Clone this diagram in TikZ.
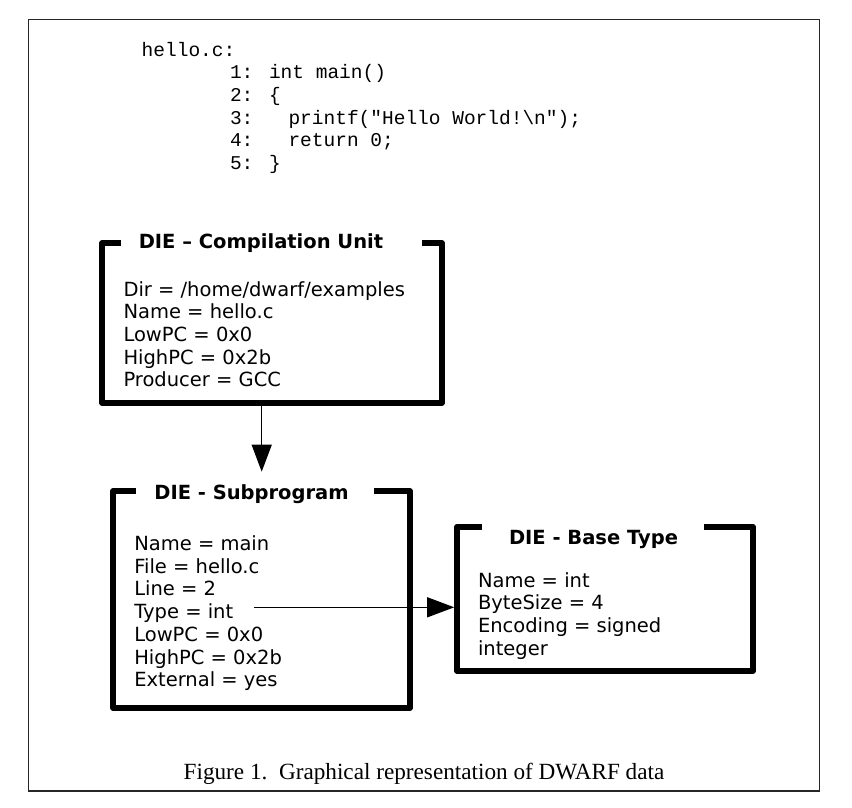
\documentclass[tikz,border=0pt]{standalone}
\usepackage{fontspec}
\newfontfamily\dvfont{DejaVu Sans}
\newfontfamily\codefont{Liberation Mono}
\newfontfamily\capfont{Liberation Serif}
\usetikzlibrary{arrows.meta}
\begin{document}
\begin{tikzpicture}[x=1bp,y=-1bp,
  every node/.style={inner sep=0pt, outer sep=0pt},
  code/.style={anchor=base west, font=\codefont\fontsize{19.5bp}{22.6bp}\selectfont},
  attr/.style={anchor=base west, font=\dvfont\fontsize{19.5bp}{22.7bp}\selectfont},
  dietitle/.style={anchor=base, font=\dvfont\bfseries\fontsize{19.5bp}{22.7bp}\selectfont},
  diebox/.style={draw=none, minimum width=#1},
  boxline/.style={line width=5.6bp, line join=round, line cap=butt, black},
  link/.style={line width=1.2bp, black, -{Triangle[length=27bp,width=20bp]}},
  caption/.style={anchor=base, font=\capfont\fontsize{23.2bp}{26bp}\selectfont}]
\useasboundingbox (0,0) rectangle (852,808);
\fill[white] (0,0) rectangle (852,808);
% outer frame
\draw[line width=1.6bp, black!85] (28.5,19.5) rectangle (819.5,791);

% source code
\node[code] (c0) at (141.7,56.3) {hello.c:};
\node[code] (c1) at (230,79) {1: int main()};
\node[code] (c2) at (230,101.6) {2: \{};
\node[code] (c3) at (230,124.2) {3:\ \ \ printf("Hello World!\textbackslash n");};
\node[code] (c4) at (230,146.8) {4:\ \ \ return 0;};
\node[code] (c5) at (230,169.4) {5: \}};

% DIE boxes (outline geometry)
\node[diebox=340bp, minimum height=160bp] (cu) at (272,323) {};
\node[diebox=297bp, minimum height=217bp] (sub) at (261.5,599.5) {};
\node[diebox=296bp, minimum height=144.3bp] (bt) at (605,598.85) {};

\draw[boxline] ([xshift=18.7bp]cu.north west) -- (cu.north west) -- (cu.south west)
  -- (cu.south east) -- (cu.north east) -- ([xshift=-20.3bp]cu.north east);
\draw[boxline] ([xshift=22.7bp]sub.north west) -- (sub.north west) -- (sub.south west)
  -- (sub.south east) -- (sub.north east) -- ([xshift=-36bp]sub.north east);
\draw[boxline] ([xshift=25bp]bt.north west) -- (bt.north west) -- (bt.south west)
  -- (bt.south east) -- (bt.north east) -- ([xshift=-49bp]bt.north east);

% titles
\node[dietitle] (cutitle) at (261,248.3) {DIE – Compilation Unit};
\node[dietitle] (subtitle) at (251.5,499.3) {DIE - Subprogram};
\node[dietitle] (bttitle) at (593.5,544) {DIE - Base Type};

% attributes
\foreach \t [count=\i] in {Dir = /home/dwarf/examples, Name = hello.c, LowPC = 0x0, HighPC = 0x2b, Producer = GCC}
  \node[attr] (cu\i) at (123.5,{296+22.7*(\i-1)}) {\t};
\foreach \t [count=\i] in {Name = main, File = hello.c, Line = 2, Type = int, LowPC = 0x0, HighPC = 0x2b, External = yes}
  \node[attr] (sub\i) at (134.3,{550.5+22.7*(\i-1)}) {\t};
\foreach \t [count=\i] in {Name = int, ByteSize = 4, Encoding = signed, integer}
  \node[attr] (bt\i) at (478,{587+22.7*(\i-1)}) {\t};

% connectors
\coordinate (a1end) at (261.7,471.7);
\draw[link] (cu.south -| a1end) -- (a1end);
\coordinate (a2start) at ([xshift=21bp,yshift=11.3bp]sub4.base east);
\draw[link, shorten >=2.8bp] (a2start) -- (a2start -| bt.west);

% caption
\node[caption] (cap) at (424,779) {Figure 1.\ \ Graphical representation of DWARF data};
\end{tikzpicture}
\end{document}
